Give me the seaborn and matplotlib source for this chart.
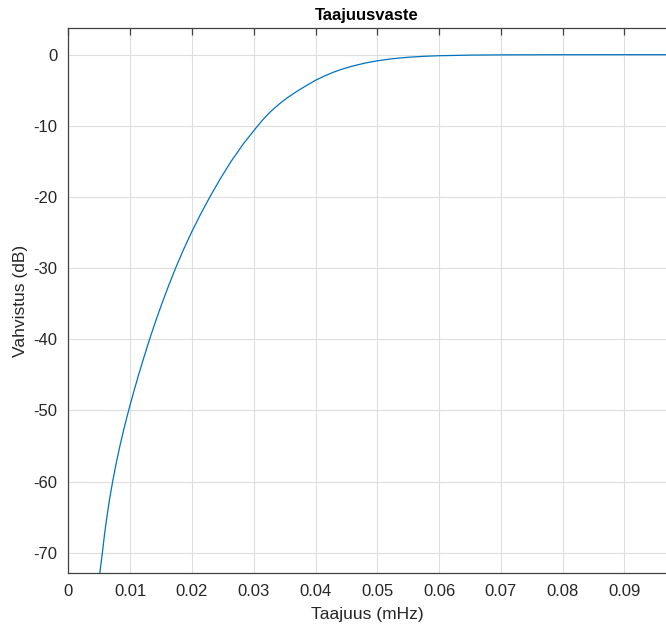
import matplotlib
matplotlib.use("Agg")
import matplotlib.pyplot as plt
import seaborn as sns
import pandas as pd

# Data (frequency in mHz, gain in dB)
freq_mhz = [0.004935, 0.005097, 0.005518, 0.005850, 0.006236, 0.006678, 0.007176,
            0.007733, 0.008350, 0.009027, 0.009765, 0.010550, 0.011375, 0.012249,
            0.013155, 0.014117, 0.015138, 0.016220, 0.017362, 0.018589, 0.019921,
            0.021359, 0.022905, 0.024550, 0.026340, 0.028350, 0.030650,
            0.0315, 0.0325, 0.0335, 0.0345, 0.0355, 0.0365, 0.0375, 0.0390,
            0.0400, 0.0415, 0.0430, 0.0445, 0.0460, 0.0480, 0.0500, 0.0525,
            0.0550, 0.0575, 0.0600, 0.0650, 0.0700, 0.0800, 0.0900, 0.0970]
gain_db = [-74.3, -72.9, -70.0, -67.5, -65.0, -62.5, -60.0,
           -57.5, -55.0, -52.5, -50.0, -47.5, -45.0, -42.5,
           -40.0, -37.5, -35.0, -32.5, -30.0, -27.5, -25.0,
           -22.5, -20.0, -17.5, -15.0, -12.5, -10.0,
           -9.12, -8.2, -7.4, -6.67, -6.02, -5.43, -4.88, -4.1,
           -3.6, -2.97, -2.43, -1.98, -1.6, -1.18, -0.86, -0.56,
           -0.36, -0.23, -0.145, -0.06, -0.025, -0.006, -0.001, 0.0]
x_ticks = [0, 0.01, 0.02, 0.03, 0.04, 0.05, 0.06, 0.07, 0.08, 0.09]
x_tick_labels = ["0", "0.01", "0.02", "0.03", "0.04", "0.05", "0.06", "0.07", "0.08", "0.09"]
y_ticks = [-70, -60, -50, -40, -30, -20, -10, 0]
y_tick_labels = ["-70", "-60", "-50", "-40", "-30", "-20", "-10", "0"]
title = "Taajuusvaste"
x_label = "Taajuus (mHz)"
y_label = "Vahvistus (dB)"

sns.set_style("white")
plt.rcParams["font.family"] = ["Liberation Sans", "DejaVu Sans"]

df = pd.DataFrame({"f": freq_mhz, "g": gain_db})

fig = plt.figure(figsize=(6.66, 6.30), dpi=100)
ax = fig.add_axes([68.3 / 666, 1 - 573 / 630, 1 - 68.3 / 666, (573 - 28.3) / 630])

sns.lineplot(data=df, x="f", y="g", ax=ax, color="#0072BD", linewidth=0.9,
             sort=False, estimator=None)

ax.set_xlim(0, (666 - 68.3) / 61.8 * 0.01)
ax.set_ylim(-72.86, 3.71)
ax.set_xticks(x_ticks)
ax.set_xticklabels(x_tick_labels)
ax.set_yticks(y_ticks)
ax.set_yticklabels(y_tick_labels)

ax.grid(True, color="#dedede", linewidth=0.8)
ax.set_axisbelow(True)
for side in ["left", "bottom", "top"]:
    ax.spines[side].set_visible(True)
    ax.spines[side].set_color("#404040")
    ax.spines[side].set_linewidth(0.9)
ax.spines["right"].set_visible(False)
ax.tick_params(axis="both", direction="in", length=5, width=0.9, color="#404040",
               labelsize=12, labelcolor="#262626", top=True, pad=8)

ax.set_title(title, fontsize=12, fontweight="bold", color="black", pad=6)
ax.set_xlabel(x_label, fontsize=12.5, color="#262626", labelpad=6)
ax.set_ylabel(y_label, fontsize=12.5, color="#262626", labelpad=4)

fig.savefig("out.png", dpi=100)
